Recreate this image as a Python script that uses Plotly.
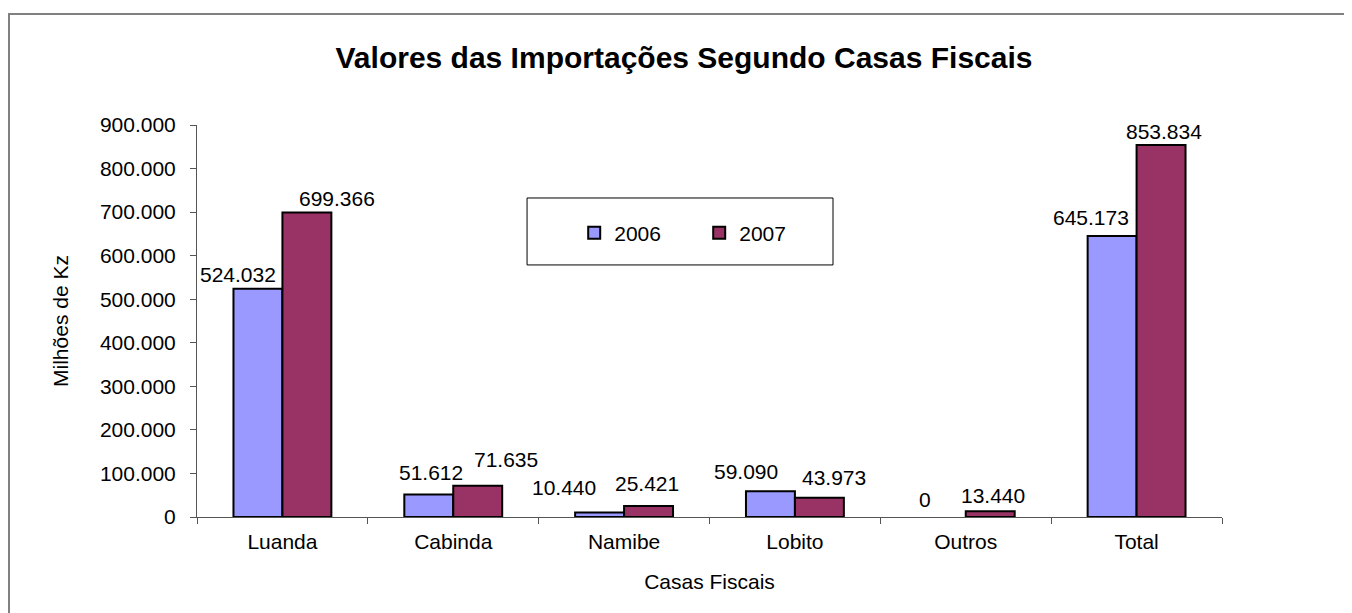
import plotly.graph_objects as go

casas = ["Luanda", "Cabinda", "Namibe", "Lobito", "Outros", "Total"]
valores_2006 = [524032, 51612, 10440, 59090, 0, 645173]
valores_2007 = [699366, 71635, 25421, 43973, 13440, 853834]

# label nudges (px) relative to the group centre / bar top, as placed in the original
dx_2006 = [-44, -22, -60, -49, -41, -46]
dx_2007 = [55, 53, 23, 39, 27, 27]
dy_2006 = [14, 22, 25, 20, 18, 18]
dy_2007 = [14, 26, 22, 20, 16, 14]

FONT = "Liberation Sans, Arial, sans-serif"
COR_2006 = "#9999FF"
COR_2007 = "#993366"


def fmt(v):
    return f"{v:,.0f}".replace(",", ".")


def contorno(vals):
    # a zero bar shows no outline in the original
    return [0 if v == 0 else 2 for v in vals]


fig = go.Figure()
fig.add_trace(go.Bar(x=casas, y=valores_2006, name="2006",
                     marker=dict(color=COR_2006,
                                 line=dict(color="black", width=contorno(valores_2006)))))
fig.add_trace(go.Bar(x=casas, y=valores_2007, name="2007",
                     marker=dict(color=COR_2007,
                                 line=dict(color="black", width=contorno(valores_2007)))))

for i, c in enumerate(casas):
    for v, dx, dy in ((valores_2006[i], dx_2006[i], dy_2006[i]),
                      (valores_2007[i], dx_2007[i], dy_2007[i])):
        fig.add_annotation(x=c, y=v, text=fmt(v), showarrow=False,
                           xanchor="center", yanchor="middle",
                           xshift=dx, yshift=dy,
                           font=dict(family=FONT, size=21, color="black"))

# legend frame
fig.add_shape(type="rect", xref="paper", yref="paper",
              x0=0.322, x1=0.6205, y0=0.643, y1=0.8138,
              line=dict(color="black", width=1), fillcolor="white", layer="below")
# outer chart border (runs off the right/bottom edge like the source)
fig.add_shape(type="rect", xref="paper", yref="paper",
              x0=-0.1834, x1=1.3, y0=-0.4, y1=1.2832,
              line=dict(color="#808080", width=2))

fig.update_layout(
    width=1352, height=613,
    margin=dict(l=189, r=138, t=117, b=104),
    paper_bgcolor="white", plot_bgcolor="white",
    separators=",.",
    barmode="group", bargap=0.427, bargroupgap=0,
    font=dict(family=FONT, size=21, color="black"),
    title=dict(text="<b>Valores das Importações Segundo Casas Fiscais</b>",
               x=0.5, xanchor="center", y=0.92, yanchor="middle",
               font=dict(family=FONT, size=30, color="black")),
    legend=dict(orientation="h", x=0.368, xanchor="left", y=0.7245, yanchor="middle",
                bgcolor="rgba(0,0,0,0)", borderwidth=0,
                entrywidth=80, font=dict(family=FONT, size=21)),
    xaxis=dict(title=dict(text="Casas Fiscais", standoff=22, font=dict(size=21)),
               showline=True, linecolor="#555555", linewidth=1,
               ticks="outside", tickson="boundaries", ticklen=6, tickcolor="#555555",
               ticklabelstandoff=6, showgrid=False),
    yaxis=dict(title=dict(text="Milhões de Kz", standoff=25, font=dict(size=21)),
               range=[0, 900000], tickvals=[i * 100000 for i in range(10)],
               tickformat=",.0f",
               showline=True, linecolor="#555555", linewidth=1,
               ticks="outside", ticklen=6, tickcolor="#555555",
               ticklabelstandoff=10, showgrid=False, zeroline=False),
)

fig.write_html("out.html")
